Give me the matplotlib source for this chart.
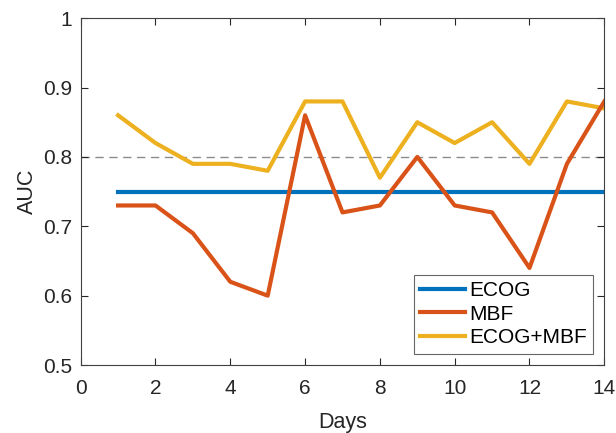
import matplotlib
matplotlib.use("Agg")
import matplotlib.pyplot as plt

days = list(range(1, 15))
ecog = [0.75] * 14
mbf = [0.73, 0.73, 0.69, 0.62, 0.60, 0.86, 0.72, 0.73, 0.80, 0.73, 0.72, 0.64, 0.79, 0.88]
ecog_mbf = [0.86, 0.82, 0.79, 0.79, 0.78, 0.88, 0.88, 0.77, 0.85, 0.82, 0.85, 0.79, 0.88, 0.87]
threshold = 0.8
xticks = [0, 2, 4, 6, 8, 10, 12, 14]
yticks = [0.5, 0.6, 0.7, 0.8, 0.9, 1.0]
ytick_labels = ["0.5", "0.6", "0.7", "0.8", "0.9", "1"]

plt.rcParams['font.family'] = ['Liberation Sans', 'DejaVu Sans']

fig = plt.figure(figsize=(6.16, 4.33), dpi=100)
ax = fig.add_axes([0.131, 0.157, 0.850, 0.801])

ax.axhline(threshold, color='#8c8c8c', lw=1.0, ls=(0, (6, 4)), zorder=1)
ax.plot(days, ecog, color='#0072BD', lw=3.0, label='ECOG', zorder=3)
ax.plot(days, mbf, color='#D95319', lw=3.0, label='MBF', zorder=3)
ax.plot(days, ecog_mbf, color='#EDB120', lw=3.0, label='ECOG+MBF', zorder=2)

ax.set_xlim(0, 14)
ax.set_ylim(0.5, 1.0)
ax.set_xticks(xticks)
ax.set_yticks(yticks)
ax.set_yticklabels(ytick_labels)
ax.tick_params(direction='in', top=True, right=True, labelsize=15, length=5,
               width=0.8, color='#262626', labelcolor='#262626')
ax.tick_params(axis='x', pad=10)
ax.tick_params(axis='y', pad=6)
for s in ax.spines.values():
    s.set_color('#404040')
    s.set_linewidth(0.8)

ax.set_xlabel('Days', fontsize=15.5, color='#262626', labelpad=10)
ax.set_ylabel('AUC', fontsize=15.5, color='#262626', labelpad=4)

leg = ax.legend(loc='lower right', fontsize=15, frameon=True, fancybox=False,
                edgecolor='#404040', handlelength=2.15, borderaxespad=0.55,
                labelspacing=0.22, handletextpad=0.2, borderpad=0.3)
leg.get_frame().set_linewidth(0.8)

fig.savefig('out.png', dpi=100)
